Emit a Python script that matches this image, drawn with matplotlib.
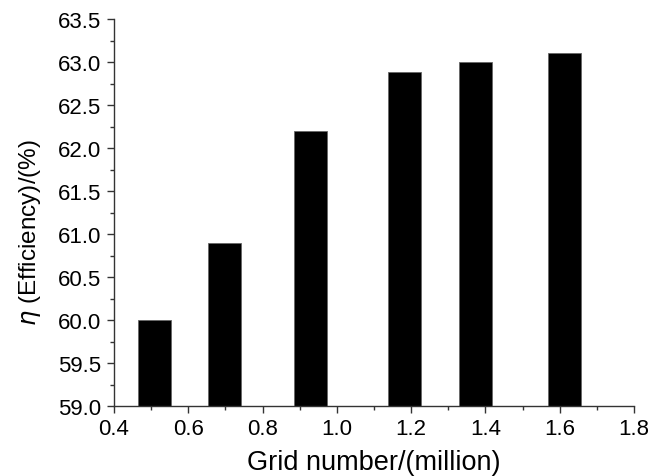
import matplotlib
matplotlib.use("Agg")
import matplotlib.pyplot as plt
from matplotlib.ticker import MultipleLocator, FormatStrFormatter

grid_millions = [0.509, 0.697, 0.929, 1.182, 1.374, 1.614]
efficiency = [60.0, 60.9, 62.2, 62.88, 63.0, 63.11]

plt.rcParams['font.family'] = ['Liberation Sans', 'DejaVu Sans']
plt.rcParams['mathtext.fontset'] = 'dejavusans'

W, H = 651, 477
fig = plt.figure(figsize=(W / 100, H / 100), dpi=100)
ax = fig.add_axes([114 / W, 1 - 407 / H, (634 - 114) / W, (407 - 20) / H])

ax.bar(grid_millions, [e - 59.0 for e in efficiency], bottom=59.0, width=0.089,
       color='black', edgecolor='#666666', linewidth=0.6)

ax.set_xlim(0.4, 1.8)
ax.set_ylim(59.0, 63.5)
ax.xaxis.set_major_locator(MultipleLocator(0.2))
ax.xaxis.set_minor_locator(MultipleLocator(0.1))
ax.yaxis.set_major_locator(MultipleLocator(0.5))
ax.yaxis.set_minor_locator(MultipleLocator(0.25))
ax.xaxis.set_major_formatter(FormatStrFormatter('%.1f'))
ax.yaxis.set_major_formatter(FormatStrFormatter('%.1f'))

for s in ['top', 'right']:
    ax.spines[s].set_visible(False)
for s in ['left', 'bottom']:
    ax.spines[s].set_color('#333333')
    ax.spines[s].set_linewidth(1.0)

ax.tick_params(which='major', direction='out', length=5, width=1.0, color='#333333',
               labelsize=16, pad=4)
ax.tick_params(which='minor', direction='out', length=3, width=1.0, color='#333333')

ax.set_xlabel('Grid number/(million)', fontsize=19.5, labelpad=7)
ax.set_ylabel(r'$\eta$ (Efficiency)/(%)', fontsize=17.5)
ax.yaxis.set_label_coords(-0.136, 0.45)

fig.savefig('out.png', dpi=100)
